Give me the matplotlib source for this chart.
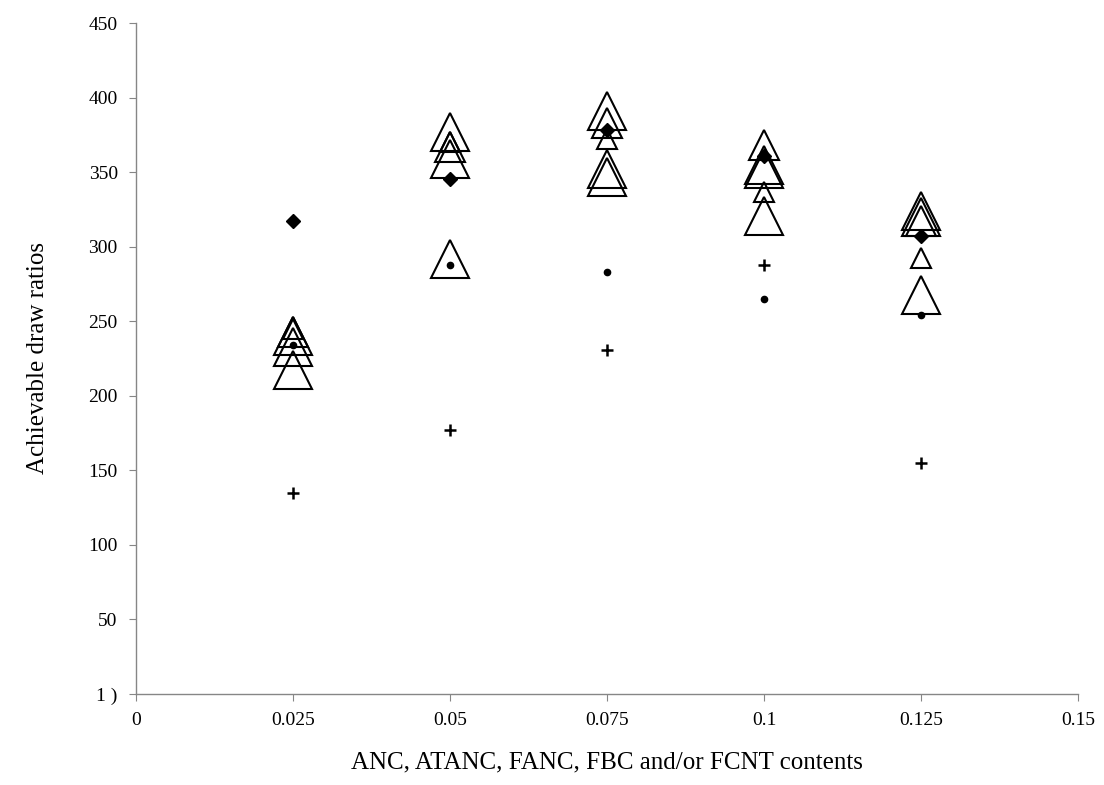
import matplotlib
matplotlib.use("Agg")
import matplotlib.pyplot as plt

plt.rcParams['font.family'] = ['Liberation Serif', 'DejaVu Serif']

# filler contents (x positions of the data)
contents = [0.025, 0.05, 0.075, 0.1, 0.125]

# filled diamonds, dots and crosses
diamond_vals = [317, 345.7, 378, 361, 307]
dot_vals = [234, 287.4, 283, 265, 254]
plus_vals = [134.7, 177, 231, 287.4, 154.8]

# open triangles, three marker sizes
tri_small = [245, 370, 372, 336.8, 292.6]
tri_medium = [243, 366.5, 383, 368.5, 317]
tri_large_a = [240, 377, 391, 354.6, 323.6]
tri_large_b = [232.5, 358.8, 352, 352, 320]
tri_large_c = [217, 291.7, 347, 320.4, 267.7]

xticks = [0, 0.025, 0.05, 0.075, 0.1, 0.125, 0.15]
xtick_labels = ['0', '0.025', '0.05', '0.075', '0.1', '0.125', '0.15']
yticks = [0, 50, 100, 150, 200, 250, 300, 350, 400, 450]
ytick_labels = ['1 )', '50', '100', '150', '200', '250', '300', '350', '400', '450']

fig = plt.figure(figsize=(11.04, 7.85), dpi=100)
ax = fig.add_axes([0.123, 0.116, 0.8535, 0.8547])

tri_kw = dict(linestyle='none', marker='^', markerfacecolor='none',
              markeredgecolor='black', markeredgewidth=1.5)
ax.plot(contents, tri_large_c, markersize=28, **tri_kw)
ax.plot(contents, tri_large_b, markersize=28, **tri_kw)
ax.plot(contents, tri_large_a, markersize=28, **tri_kw)
ax.plot(contents, tri_medium, markersize=21, **tri_kw)
ax.plot(contents, tri_small, markersize=15, **tri_kw)

ax.plot(contents, diamond_vals, linestyle='none', marker='D', markersize=7,
        color='black')
ax.plot(contents, dot_vals, linestyle='none', marker='o', markersize=4.5,
        color='black')
ax.plot(contents, plus_vals, linestyle='none', marker='+', markersize=9,
        markeredgewidth=1.8, color='black')

ax.set_xlim(0, 0.15)
ax.set_ylim(0, 450)
ax.set_xticks(xticks)
ax.set_xticklabels(xtick_labels)
ax.set_yticks(yticks)
ax.set_yticklabels(ytick_labels)

for side in ['top', 'right']:
    ax.spines[side].set_visible(False)
for side in ['left', 'bottom']:
    ax.spines[side].set_color('#868686')
    ax.spines[side].set_linewidth(1)
ax.tick_params(axis='both', direction='out', length=5, color='#868686',
               labelsize=14, pad=8)

ax.set_xlabel('ANC, ATANC, FANC, FBC and/or FCNT contents', fontsize=18,
              labelpad=16)
ax.set_ylabel('Achievable draw ratios', fontsize=18, labelpad=28)

fig.savefig('out.png', dpi=100)
